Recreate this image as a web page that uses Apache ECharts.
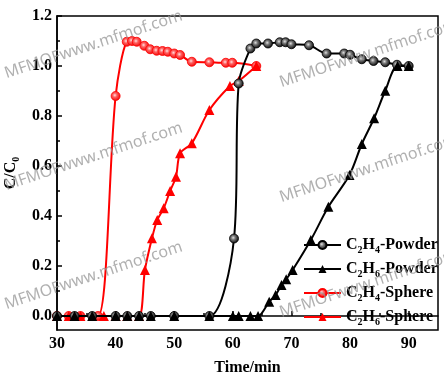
<!DOCTYPE html>
<html><head><meta charset="utf-8">
<script src="https://cdn.jsdelivr.net/npm/echarts@6/dist/echarts.min.js"></script>
<style>html,body{margin:0;padding:0;background:#fff}#c{width:444px;height:381px}</style>
</head><body><div id="c"></div>
<script>
// ---- data ----
const xTicks = [30, 40, 50, 60, 70, 80, 90];
const xMinorTicks = [35, 45, 55, 65, 75, 85];
const yTicks = [0, 0.2, 0.4, 0.6, 0.8, 1.0, 1.2];
const yMinorTicks = [0.1, 0.3, 0.5, 0.7, 0.9, 1.1];

const c2h4PowderX = [30,33,36,40,42,44,46,50,56,60.2,61,63,64,66,68,69,70,73,76,79,80,82,84,86,88,90];
const c2h4PowderY = [0,0,0,0,0,0,0,0,0,0.31,0.93,1.07,1.09,1.09,1.095,1.095,1.087,1.083,1.05,1.05,1.045,1.027,1.02,1.015,1.005,1.0];

const c2h6PowderX = [30,33,36,40,42,44,46,50,56,60,61,63,64.3,66.2,67.3,68.3,69.1,70.2,73.3,76.3,79.9,82,84.1,86,88.1,90];
const c2h6PowderY = [0,0,0,0,0,0,0,0,0,0,0,0,0,0.057,0.084,0.124,0.147,0.184,0.304,0.437,0.564,0.688,0.791,0.901,1.0,1.0];

const c2h4SphereX = [30,32,34,37,40,41.9,42.8,43.6,44.9,45.9,47,48,48.9,50,51,53,56,58.8,59.9,64];
const c2h4SphereY = [0,0,0,0,0.88,1.097,1.1,1.097,1.081,1.067,1.061,1.06,1.057,1.05,1.044,1.017,1.015,1.013,1.013,1.0];

const c2h6SphereX = [30,32,34,38,40,42,44,45,46.2,47.1,48.2,49.3,50.3,51,53,56,59.5,61,64];
const c2h6SphereY = [0,0,0,0,0,0,0,0.184,0.311,0.384,0.431,0.5,0.557,0.651,0.691,0.824,0.92,0.94,1.0];

const seriesNames = ['C2H4-Powder', 'C2H6-Powder', 'C2H4-Sphere', 'C2H6-Sphere'];
const legendRich = {
  'C2H4-Powder': '{n|C}{s|2}{n|H}{s|4}{n|-Powder}',
  'C2H6-Powder': '{n|C}{s|2}{n|H}{s|6}{n|-Powder}',
  'C2H4-Sphere': '{n|C}{s|2}{n|H}{s|4}{n|-Sphere}',
  'C2H6-Sphere': '{n|C}{s|2}{n|H}{s|6}{n|-Sphere}'
};
const watermark = 'MFMOFwww.mfmof.com';

// ---- build ----
const zip = (xs, ys) => xs.map((x, i) => [x, ys[i]]);
const FONT = 'Liberation Serif';
const RED = '#ff0000';
const BLACK = '#000000';
const ballBlack = {type:'radial', x:0.42, y:0.42, r:0.6, colorStops:[{offset:0,color:'#e0e0e0'},{offset:0.35,color:'#777'},{offset:1,color:'#000'}]};
const ballRed = {type:'radial', x:0.42, y:0.42, r:0.6, colorStops:[{offset:0,color:'#ffe0e0'},{offset:0.35,color:'#ff6060'},{offset:1,color:'#ee0000'}]};
const rich = {
  n: {fontFamily: FONT, fontWeight: 'bold', fontSize: 16, lineHeight: 20, color: '#000'},
  s: {fontFamily: FONT, fontWeight: 'bold', fontSize: 10, lineHeight: 10, verticalAlign: 'bottom', color: '#000'}
};

function mk(name, xs, ys, symbol, color, fill, z) {
  return {
    name, type: 'line', data: zip(xs, ys), smooth: 0.3,
    symbol, symbolSize: symbol === 'circle' ? 9 : 10,
    lineStyle: {color, width: 2},
    itemStyle: {color: fill, borderColor: color, borderWidth: symbol === 'circle' ? 0.8 : 0},
    z, animation: false
  };
}

const wmPos = [[5,74],[5,186],[5,305],[280,83],[280,198],[280,313]];

const chart = echarts.init(document.getElementById('c'));
chart.setOption({
  animation: false,
  backgroundColor: '#fff',
  grid: {left: 57, right: 6, top: 16, bottom: 51, containLabel: false, outerBoundsMode: 'none',
    show: true, borderColor: '#000', borderWidth: 1.5, backgroundColor: 'transparent'},
  xAxis: [{
    type: 'value', min: 30, max: 95, interval: 10,
    name: 'Time/min', nameLocation: 'middle', nameGap: 30,
    nameTextStyle: {fontFamily: FONT, fontWeight: 'bold', fontSize: 16, color: '#000'},
    axisLine: {show: true, lineStyle: {color: '#000', width: 1.5}},
    axisTick: {show: true, inside: true, length: 5, lineStyle: {color: '#000', width: 1.5}, customValues: xTicks},
    axisLabel: {fontFamily: FONT, fontWeight: 'bold', fontSize: 16, color: '#000', margin: 6, customValues: xTicks},
    splitLine: {show: false}
  }, {
    type: 'value', min: 30, max: 95, position: 'bottom',
    axisLine: {show: false},
    axisTick: {show: true, inside: true, length: 3, lineStyle: {color: '#000', width: 1.5}, customValues: xMinorTicks},
    axisLabel: {show: false}, splitLine: {show: false}
  }],
  yAxis: [{
    type: 'value', min: -0.056, max: 1.2,
    name: '{n|C/C}{s|0}', nameLocation: 'middle', nameGap: 36,
    nameTextStyle: {rich},
    axisLine: {show: true, lineStyle: {color: '#000', width: 1.5}},
    axisTick: {show: true, inside: true, length: 5, lineStyle: {color: '#000', width: 1.5}, customValues: yTicks},
    axisLabel: {fontFamily: FONT, fontWeight: 'bold', fontSize: 16, color: '#000', margin: 5, customValues: yTicks,
      formatter: v => v.toFixed(1)},
    splitLine: {show: false}
  }, {
    type: 'value', min: -0.056, max: 1.2, position: 'left',
    axisLine: {show: false},
    axisTick: {show: true, inside: true, length: 3, lineStyle: {color: '#000', width: 1.5}, customValues: yMinorTicks},
    axisLabel: {show: false}, splitLine: {show: false}
  }],
  legend: {
    data: seriesNames, orient: 'vertical', left: 298, top: 232, padding: 5,
    itemWidth: 37, itemHeight: 10, itemGap: 6,
    formatter: name => legendRich[name],
    textStyle: {rich, padding: [0,0,0,0]}
  },
  series: [
    mk(seriesNames[0], c2h4PowderX, c2h4PowderY, 'circle', BLACK, ballBlack, 4),
    mk(seriesNames[1], c2h6PowderX, c2h6PowderY, 'triangle', BLACK, BLACK, 4),
    mk(seriesNames[2], c2h4SphereX, c2h4SphereY, 'circle', RED, ballRed, 3),
    mk(seriesNames[3], c2h6SphereX, c2h6SphereY, 'triangle', RED, RED, 3)
  ],
  graphic: wmPos.map(p => ({
    type: 'text', x: p[0], y: p[1], rotation: 0.32, z: 100, silent: true,
    style: {text: watermark, fontFamily: 'Noto Sans', fontSize: 16, fill: 'rgba(150,150,150,0.75)', align: 'left', verticalAlign: 'middle'}
  }))
});
</script>
</body></html>
